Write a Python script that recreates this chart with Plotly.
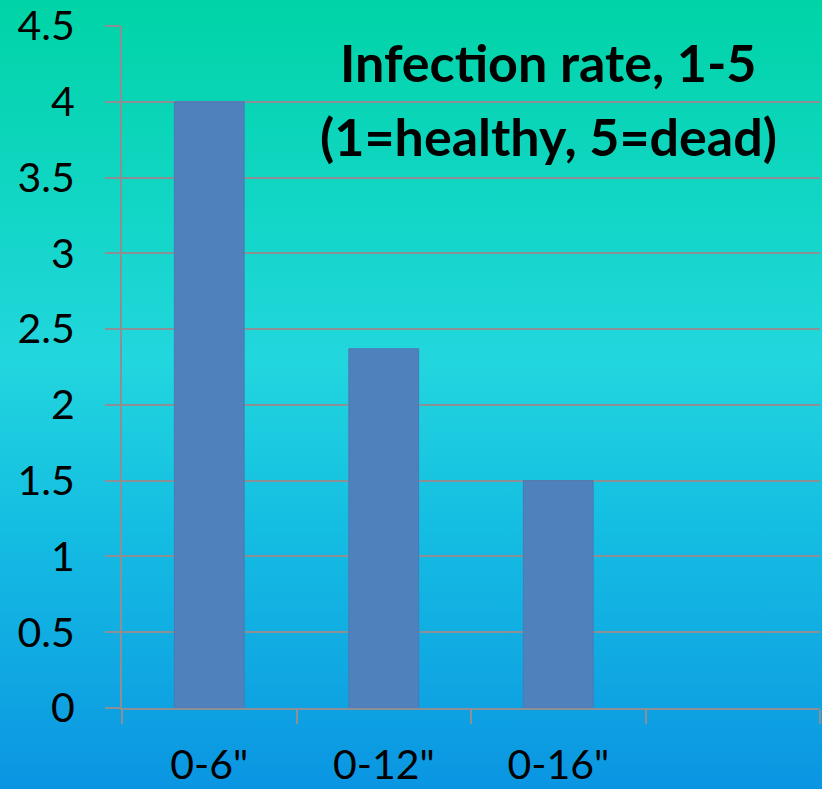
import base64
import plotly.graph_objects as go

# ---- data ----
categories = ['0-6"', '0-12"', '0-16"', ' ']
infection_rate = [4.0, 2.37, 1.5, None]
y_tick_values = [0, 0.5, 1, 1.5, 2, 2.5, 3, 3.5, 4, 4.5]
y_tick_labels = ["0", "0.5", "1", "1.5", "2", "2.5", "3", "3.5", "4", "4.5"]
title_lines = ["Infection rate, 1-5", "(1=healthy, 5=dead)"]

# ---- layout geometry ----
W, H = 822, 789
ML, MR, MT, MB = 122, 2, 26, 81
plot_h = H - MT - MB
plot_w = W - ML - MR

FONT = "Lato, 'Liberation Sans', Arial, sans-serif"
GRID = "#8c9094"

# background gradient (offset fraction of height, colour)
stops = [(0 / 789, "#00d4a6"), (210 / 789, "#12d6c6"), (360 / 789, "#22d6de"),
         (530 / 789, "#14bde2"), (670 / 789, "#10a8e2"), (1.0, "#0a95e2")]
svg = ('<svg xmlns="http://www.w3.org/2000/svg" width="%d" height="%d" preserveAspectRatio="none">'
       '<defs><linearGradient id="g" x1="0" y1="0" x2="0" y2="1">%s</linearGradient></defs>'
       '<rect x="0" y="0" width="%d" height="%d" fill="url(#g)"/></svg>') % (
    W, H, "".join('<stop offset="%.4f" stop-color="%s"/>' % s for s in stops), W, H)
bg_uri = "data:image/svg+xml;base64," + base64.b64encode(svg.encode()).decode()


def py_to_paper(py):
    return (H - MB - py) / plot_h


def px_to_paper(px):
    return (px - ML) / plot_w


fig = go.Figure(go.Bar(
    x=categories, y=infection_rate, width=0.4,
    marker=dict(color="#4f81bd", line=dict(color="#4a7ab4", width=1)),
    hoverinfo="skip",
))

fig.update_layout(
    width=W, height=H,
    margin=dict(l=ML, r=MR, t=MT, b=MB),
    paper_bgcolor="#0fb5e0",
    plot_bgcolor="rgba(0,0,0,0)",
    images=[dict(source=bg_uri, xref="paper", yref="paper",
                 x=px_to_paper(0), y=py_to_paper(0), sizex=W / plot_w, sizey=H / plot_h,
                 xanchor="left", yanchor="top", sizing="stretch", layer="below")],
    showlegend=False,
    font=dict(family=FONT, color="#000000"),
    xaxis=dict(
        type="category", categoryorder="array", categoryarray=categories,
        range=[-0.5, 3.5], automargin=False,
        showgrid=False, showline=True, linecolor=GRID, linewidth=2,
        ticks="outside", tickson="boundaries", ticklen=14, tickcolor=GRID, tickwidth=2,
        tickfont=dict(size=41, family=FONT), ticklabelstandoff=20,
        zeroline=False,
    ),
    yaxis=dict(
        range=[0, 4.5], tickvals=y_tick_values, ticktext=y_tick_labels, automargin=False,
        showgrid=True, gridcolor=GRID, gridwidth=2,
        showline=True, linecolor=GRID, linewidth=2,
        ticks="outside", ticklen=15, tickcolor=GRID, tickwidth=2,
        tickfont=dict(size=41, family=FONT), ticklabelstandoff=22,
        zeroline=False,
    ),
    annotations=[
        dict(text="<b>%s</b>" % title_lines[0], xref="paper", yref="paper",
             x=px_to_paper(548), y=py_to_paper(62), xanchor="center", yanchor="middle",
             showarrow=False, font=dict(size=52, family=FONT, color="#000000")),
        dict(text="<b>%s</b>" % title_lines[1], xref="paper", yref="paper",
             x=px_to_paper(548), y=py_to_paper(136), xanchor="center", yanchor="middle",
             showarrow=False, font=dict(size=52, family=FONT, color="#000000")),
    ],
)

fig.write_html("out.html", config=dict(displayModeBar=False),
               post_script="document.body.style.margin='0';document.body.style.overflow='hidden';")
